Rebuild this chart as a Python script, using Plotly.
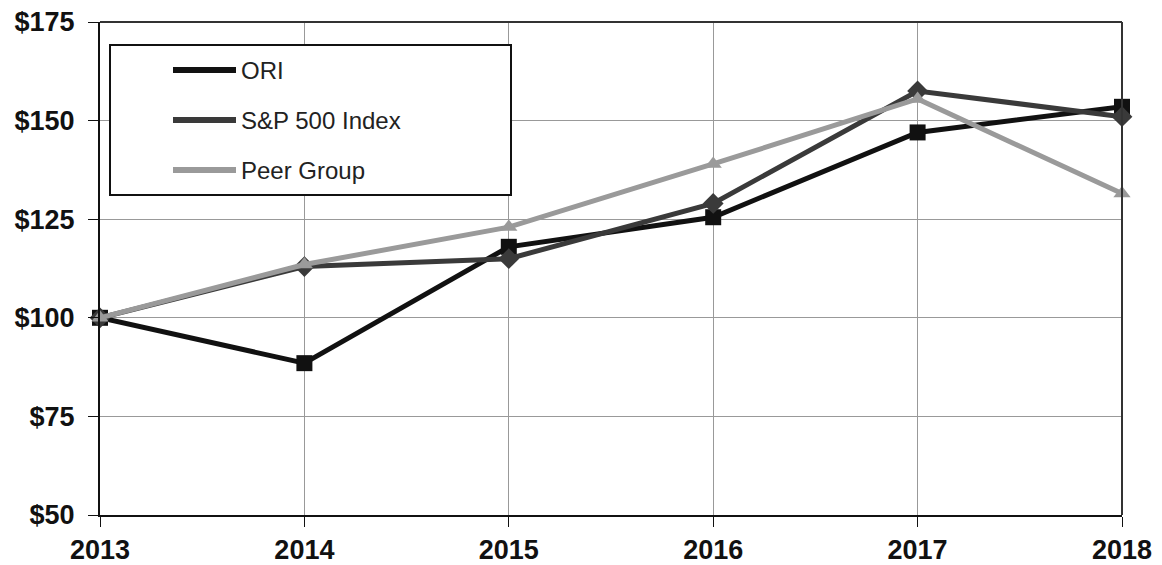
import plotly.graph_objects as go

years = [2013, 2014, 2015, 2016, 2017, 2018]
ori = [100, 88.5, 118, 125.5, 147, 153.5]
sp500 = [100, 113, 115, 129, 157.5, 151]
peer = [100, 113.5, 123, 139, 155.5, 131.5]
y_ticks = [50, 75, 100, 125, 150, 175]
y_labels = ["$50", "$75", "$100", "$125", "$150", "$175"]

series = [
    ("ORI", ori, "#111111", "square", 16),
    ("S&P 500 Index", sp500, "#3a3a3a", "diamond", 16),
    ("Peer Group", peer, "#9a9a9a", "triangle-up", 15),
]

fig = go.Figure()
for name, vals, color, sym, size in series:
    fig.add_trace(go.Scatter(
        x=years, y=vals, name=name, mode="lines+markers",
        line=dict(color=color, width=5),
        marker=dict(symbol=sym, size=size, color=color),
        showlegend=False, cliponaxis=False,
    ))

W, H = 1022, 493
def px(x):
    return (x - 100) / W
def py(y):
    return 1 - (y - 22) / H

# manual legend box
fig.add_shape(type="rect", xref="paper", yref="paper",
              x0=px(110), x1=px(511), y0=py(195), y1=py(45),
              line=dict(color="#111111", width=2), fillcolor="white", layer="above")
for i, (name, vals, color, sym, size) in enumerate(series):
    yc = py(70 + 50 * i)
    fig.add_shape(type="line", xref="paper", yref="paper",
                  x0=px(173), x1=px(236), y0=yc, y1=yc,
                  line=dict(color=color, width=6), layer="above")
    fig.add_annotation(xref="paper", yref="paper", x=px(239), y=yc,
                       text=name, showarrow=False, xanchor="left", yanchor="middle",
                       font=dict(family="Arial, Liberation Sans, sans-serif", size=24, color="#222222"))

tick_font = dict(family="Arial, Liberation Sans, sans-serif", size=27, color="#111111", weight="bold")
fig.update_xaxes(
    range=[2013, 2018], tickvals=years, ticktext=[str(y) for y in years],
    showgrid=True, gridcolor="#999999", gridwidth=1,
    showline=True, linecolor="#111111", linewidth=2,
    ticks="outside", ticklen=10, tickcolor="#111111",
    tickfont=tick_font, zeroline=False, automargin=False,
)
fig.update_yaxes(
    range=[50, 175], tickvals=y_ticks, ticktext=y_labels,
    showgrid=True, gridcolor="#999999", gridwidth=1,
    showline=True, linecolor="#111111", linewidth=2,
    ticks="outside", ticklen=10, tickcolor="#111111",
    tickfont=tick_font, ticklabelstandoff=8, zeroline=False, automargin=False,
)
# top and right frame
fig.add_shape(type="line", xref="paper", yref="paper", x0=0, x1=1, y0=1, y1=1,
              line=dict(color="#333333", width=2))
fig.add_shape(type="line", xref="paper", yref="paper", x0=1, x1=1, y0=0, y1=1,
              line=dict(color="#333333", width=2))

fig.update_layout(
    width=1162, height=565,
    margin=dict(l=100, r=40, t=22, b=50, autoexpand=False),
    paper_bgcolor="white", plot_bgcolor="white",
    showlegend=False,
)
fig.write_html("out.html")
